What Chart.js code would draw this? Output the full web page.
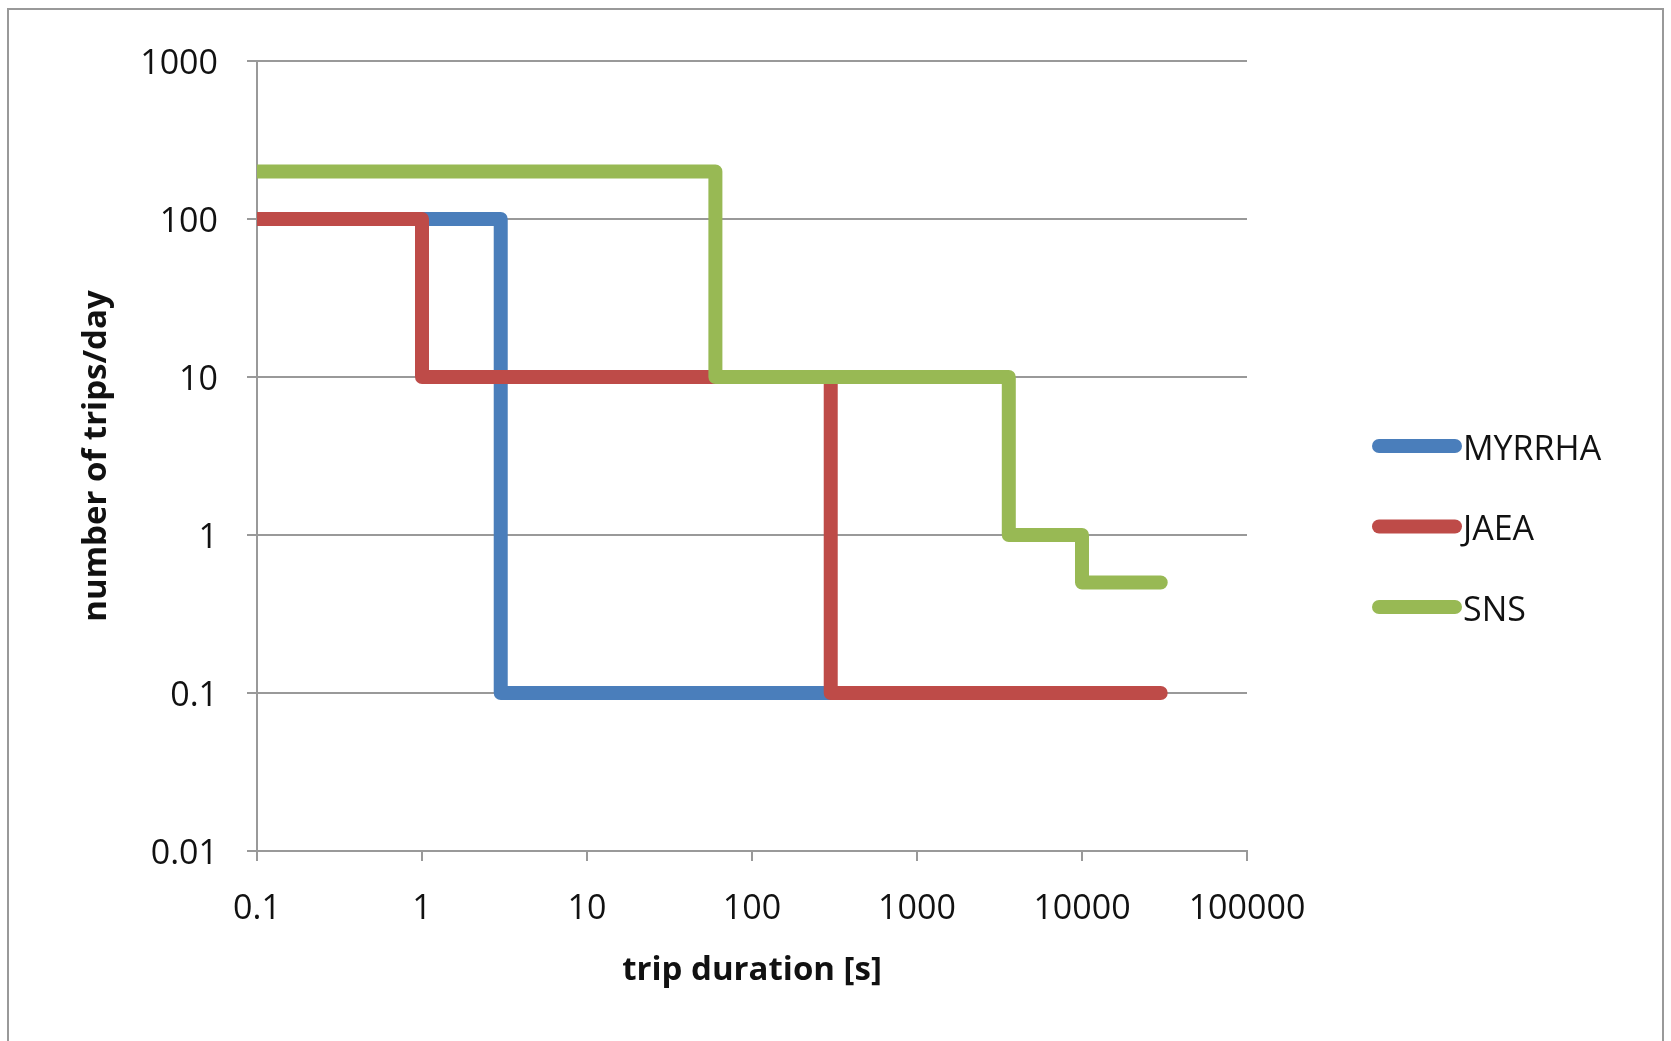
<!DOCTYPE html>
<html>
<head>
<meta charset="utf-8">
<script src="https://cdn.jsdelivr.net/npm/chart.js@4.4.1/dist/chart.umd.min.js"></script>
<style>
  html, body { margin: 0; padding: 0; background: #fff; overflow: hidden; }
  #wrap { position: relative; width: 1671px; height: 1041px; }
  #frame { position: absolute; left: 7px; top: 8px; width: 1657px; height: 1100px; border: 2px solid #999; box-sizing: border-box; pointer-events: none; }
  canvas { position: absolute; left: 0; top: 0; }
</style>
</head>
<body>
<div id="wrap">
  <canvas id="c" width="1671" height="1041"></canvas>
  <div id="frame"></div>
</div>
<script>
// ---- data ----
const seriesNames = ['MYRRHA', 'JAEA', 'SNS'];
const seriesColors = ['#4a7ebb', '#be4b48', '#98b954'];

const myrrhaX = [0.1, 3, 300];
const myrrhaY = [100, 0.1, 0.1];

const jaeaX = [0.1, 1, 300, 30000];
const jaeaY = [100, 10, 0.1, 0.1];

const snsX = [0.1, 60, 3600, 10000, 30000];
const snsY = [200, 10, 1, 0.5, 0.5];

const xTickValues = [0.1, 1, 10, 100, 1000, 10000, 100000];
const xTickLabels = ['0.1', '1', '10', '100', '1000', '10000', '100000'];
const yTickValues = [0.01, 0.1, 1, 10, 100, 1000];
const yTickLabels = ['0.01', '0.1', '1', '10', '100', '1000'];

const xTitle = 'trip duration [s]';
const yTitle = 'number of trips/day';

function pts(xs, ys) { return xs.map((x, i) => ({ x: x, y: ys[i] })); }
const seriesData = [pts(myrrhaX, myrrhaY), pts(jaeaX, jaeaY), pts(snsX, snsY)];

Chart.defaults.font.family = "'Open Sans', sans-serif";
Chart.defaults.color = '#111';

const gridColor = '#999';

const legendPlugin = {
  id: 'sideLegend',
  afterDraw(chart) {
    const ctx = chart.ctx;
    ctx.save();
    chart.data.datasets.forEach((ds, i) => {
      const y = 446 + i * 80.5;
      ctx.beginPath();
      ctx.lineCap = 'round';
      ctx.lineWidth = 14;
      ctx.strokeStyle = ds.borderColor;
      ctx.moveTo(1379, y);
      ctx.lineTo(1455, y);
      ctx.stroke();
      ctx.fillStyle = '#111';
      ctx.font = "34px 'Open Sans', sans-serif";
      ctx.textAlign = 'left';
      ctx.textBaseline = 'middle';
      ctx.fillText(ds.label, 1463, y + 4);
    });
    ctx.restore();
  }
};

new Chart(document.getElementById('c'), {
  type: 'scatter',
  data: {
    datasets: seriesNames.map((name, i) => ({
      label: name,
      data: seriesData[i],
      showLine: true,
      stepped: 'before',
      borderColor: seriesColors[i],
      backgroundColor: seriesColors[i],
      borderWidth: 14,
      borderCapStyle: 'round',
      borderJoinStyle: 'round',
      pointRadius: 0,
      pointHoverRadius: 0,
      fill: false,
      order: seriesNames.length - i
    }))
  },
  options: {
    responsive: false,
    animation: false,
    events: [],
    layout: { padding: { left: 0, top: 61, right: 424, bottom: 0 } },
    plugins: { legend: { display: false }, tooltip: { enabled: false } },
    scales: {
      x: {
        type: 'logarithmic',
        min: 0.1, max: 100000,
        afterBuildTicks(scale) { scale.ticks = xTickValues.map(v => ({ value: v })); },
        afterFit(scale) { scale.height = 190; },
        ticks: {
          autoSkip: false, maxRotation: 0,
          padding: 28,
          font: { size: 34 },
          color: '#111',
          callback(value) { const i = xTickValues.indexOf(value); return i >= 0 ? xTickLabels[i] : ''; }
        },
        grid: { display: true, drawOnChartArea: false, drawTicks: true, tickLength: 10, color: gridColor, lineWidth: 2 },
        border: { display: true, color: gridColor, width: 2 },
        title: { display: true, text: xTitle, font: { size: 33, weight: 'bold' }, color: '#111', padding: { top: 0, bottom: 51 } }
      },
      y: {
        type: 'logarithmic',
        min: 0.01, max: 1000,
        afterBuildTicks(scale) { scale.ticks = yTickValues.map(v => ({ value: v })); },
        afterFit(scale) { scale.width = 257; },
        ticks: {
          autoSkip: false,
          padding: 29,
          labelOffset: 3,
          font: { size: 34 },
          color: '#111',
          callback(value) { const i = yTickValues.indexOf(value); return i >= 0 ? yTickLabels[i] : ''; }
        },
        grid: { display: true, drawTicks: true, tickLength: 10, color: gridColor, lineWidth: 2 },
        border: { display: true, color: gridColor, width: 2 },
        title: { display: true, text: yTitle, font: { size: 33, weight: 'bold' }, color: '#111', padding: { top: 77, bottom: 0 } }
      }
    }
  },
  plugins: [legendPlugin]
});
</script>
</body>
</html>
